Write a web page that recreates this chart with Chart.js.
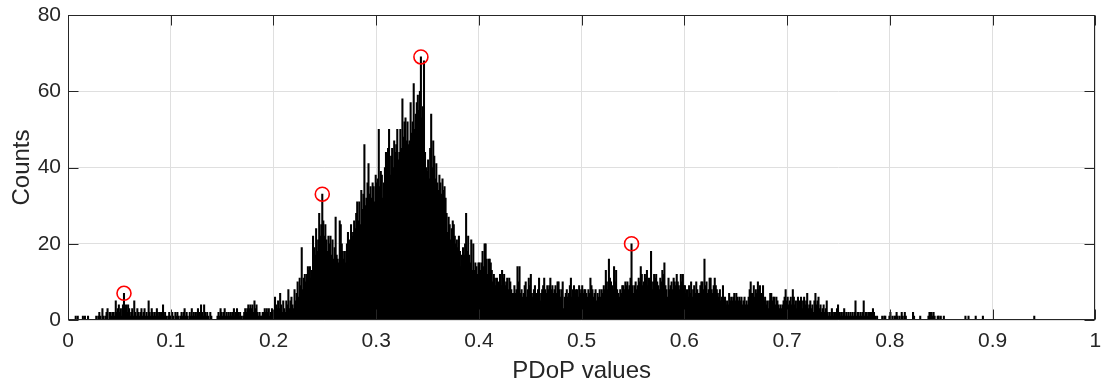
<!DOCTYPE html>
<html>
<head>
<meta charset="utf-8">
<script src="https://cdn.jsdelivr.net/npm/chart.js@4.4.0/dist/chart.umd.min.js"></script>
<style>
  html, body { margin: 0; padding: 0; background: #fff; }
</style>
</head>
<body>
<canvas id="hist" width="1104" height="386"></canvas>
<script>
// PDoP histogram, 1000 bins of width 0.001 over [0, 1]
const BIN_WIDTH = 0.001;

// counts per bin, one array per 0.1 slice
const counts00 = [
  0,0,0,0,0,0,0,1,0,1, 0,0,0,0,1,0,1,0,0,1, 0,0,0,0,0,0,0,1,0,1, 2,1,0,3,1,0,1,2,3,0,
  2,2,1,2,2,1,5,2,3,4, 2,3,1,4,7,3,4,2,4,3, 1,2,3,1,5,2,1,3,2,1, 2,3,1,2,3,1,2,1,5,2,
  1,3,2,1,2,1,3,2,1,2, 1,2,4,1,2,1,0,1,2,1
];
const counts01 = [
  1,2,1,0,2,1,2,1,0,1, 2,1,2,3,1,2,1,0,2,1, 3,1,2,1,2,1,3,2,1,4, 2,1,4,2,1,2,1,0,2,1,
  0,0,0,0,0,1,2,1,3,2, 1,2,3,1,2,1,2,1,2,1, 2,3,1,2,3,2,1,2,1,0, 1,2,3,2,3,4,3,4,3,4,
  2,5,3,4,2,1,2,1,1,2, 2,3,2,3,2,3,1,2,3,2
];
const counts02 = [
  2,6,4,3,5,3,7,4,2,5, 3,2,5,4,8,3,5,6,4,3, 8,5,7,10,6,11,9,19,8,11, 12,10,12,14,13,14,11,13,22,19,
  17,24,18,21,28,22,25,33,26,22, 25,21,18,22,20,22,17,21,16,19, 27,17,16,15,26,25,20,18,16,18,
  15,20,23,17,21,25,22,23,26,24, 28,31,26,31,25,34,29,33,46,30, 32,36,41,33,35,32,36,35,31,38
];
const counts03 = [
  36,37,50,35,39,38,32,36,40,44, 41,45,50,38,43,45,40,47,44,46, 50,42,44,50,45,58,48,52,53,47,
  52,46,47,57,49,52,62,50,54,57, 59,55,60,69,53,56,68,44,40,39, 42,37,45,54,40,47,43,37,41,36,
  34,38,36,33,37,34,35,32,28,23, 27,25,21,24,26,25,22,20,21,19, 22,18,14,17,19,17,20,28,18,22,
  17,15,21,13,20,13,15,14,12,15
];
const counts04 = [
  15,13,15,18,14,20,20,16,12,16, 16,15,13,10,12,11,9,11,10,9, 12,9,13,11,12,9,10,11,8,11,
  10,8,7,7,9,7,8,14,10,14, 7,8,6,7,9,10,6,8,11,9, 12,7,6,8,9,7,6,8,11,5,
  7,8,9,11,8,7,9,8,9,11, 8,9,7,8,9,7,10,10,8,6, 8,10,3,6,7,8,6,7,9,11,
  6,8,9,7,8,8,6,9,7,8
];
const counts05 = [
  9,7,8,8,7,6,8,7,11,9, 8,6,7,8,5,7,6,8,6,8, 7,9,8,13,10,8,16,11,10,9,
  8,14,10,13,8,7,6,8,7,9, 9,8,10,9,10,8,9,11,20,9, 7,9,10,8,9,11,10,14,12,9,
  10,12,11,13,9,11,10,18,8,10, 12,11,12,10,9,8,11,10,13,12, 15,9,8,6,11,8,9,10,8,11,
  10,9,12,10,9,8,12,10,12,9
];
const counts06 = [
  9,7,8,6,9,7,10,6,8,9, 7,10,8,7,7,9,10,10,8,16, 9,10,7,8,11,11,8,7,9,11,
  9,8,7,6,8,5,6,9,5,6, 4,5,4,7,5,6,5,6,7,5, 7,6,5,6,5,6,4,5,6,4,
  5,4,6,8,10,7,7,9,6,8, 7,10,8,9,7,6,9,5,6,4, 5,3,5,7,7,5,6,6,4,6,
  5,4,3,4,3,4,5,6,8,5
];
const counts07 = [
  6,4,5,6,4,8,6,4,5,3, 6,4,5,6,3,5,6,4,5,7, 3,4,5,3,4,2,5,7,4,5,
  6,3,4,2,3,4,2,3,5,2, 1,2,1,3,2,1,2,1,3,4, 2,1,2,1,2,3,1,2,1,2,
  1,2,1,2,1,2,5,1,2,2, 1,2,1,2,5,1,2,2,1,2, 2,2,2,3,2,1,0,1,0,0,
  0,0,1,0,1,1,0,0,0,1
];
const counts08 = [
  2,0,1,0,1,1,2,1,0,1, 0,2,1,0,2,1,0,0,0,0, 0,0,2,1,0,0,0,0,0,1,
  0,0,0,0,0,0,0,1,2,2, 2,1,2,1,0,0,1,1,0,1, 0,0,1,0,0,0,0,0,0,0,
  0,0,0,0,0,0,0,0,0,0, 0,0,0,1,0,0,1,0,0,0, 0,0,0,1,0,0,0,0,0,0,
  1,0,0,0,0,0,0,0,0,0
];
const counts09 = [
  0,0,0,0,0,0,0,0,0,0, 0,0,0,0,0,0,0,0,0,0, 0,0,0,0,0,0,0,0,0,0,
  0,0,0,0,0,0,0,0,0,0, 1,0,0,0,0,0,0,0,0,0, 0,0,0,0,0,0,0,0,0,0,
  0,0,0,0,0,0,0,0,0,0, 0,0,0,0,0,0,0,0,0,0, 0,0,0,0,0,0,0,0,0,0,
  0,0,0,0,0,0,0,0,0,0
];

// bins marked with red circles (peaks)
const peakBins = [54, 247, 343, 548];

const xTicks = [0, 0.1, 0.2, 0.3, 0.4, 0.5, 0.6, 0.7, 0.8, 0.9, 1];
const yTicks = [0, 20, 40, 60, 80];

const counts = [].concat(counts00, counts01, counts02, counts03, counts04,
                         counts05, counts06, counts07, counts08, counts09);
const barData = counts.map((c, i) => ({ x: (i + 0.5) * BIN_WIDTH, y: c }));
const peakData = peakBins.map(i => ({ x: (i + 0.5) * BIN_WIDTH, y: counts[i] }));

const INK = '#262626';
const FONT = 'Liberation Sans, Arial, Helvetica, sans-serif';

// box around the axes plus inward tick marks, like the original figure
const axesBox = {
  id: 'axesBox',
  afterDatasetsDraw(chart) {
    const { ctx, chartArea: a, scales: { x, y } } = chart;
    const L = Math.round(a.left) + 0.5, R = Math.round(a.right) - 0.5;
    const T = Math.round(a.top) + 0.5, B = Math.round(a.bottom) - 0.5;
    const len = 10;
    ctx.save();
    ctx.strokeStyle = INK;
    ctx.lineWidth = 1;
    ctx.beginPath();
    xTicks.forEach(v => {
      const px = Math.round(x.getPixelForValue(v)) + 0.5;
      ctx.moveTo(px, B); ctx.lineTo(px, B - len);
      ctx.moveTo(px, T); ctx.lineTo(px, T + len);
    });
    yTicks.forEach(v => {
      const py = Math.round(y.getPixelForValue(v)) + 0.5;
      ctx.moveTo(L, py); ctx.lineTo(L + len, py);
      ctx.moveTo(R, py); ctx.lineTo(R - len, py);
    });
    ctx.stroke();
    ctx.strokeRect(L, T, R - L, B - T);
    ctx.restore();
  }
};

const ctx = document.getElementById('hist').getContext('2d');
new Chart(ctx, {
  type: 'bar',
  data: {
    datasets: [
      {
        type: 'scatter',
        data: peakData,
        pointStyle: 'circle',
        pointRadius: 7,
        pointBorderWidth: 1.6,
        borderColor: '#ff0000',
        backgroundColor: 'rgba(0,0,0,0)',
        order: 0
      },
      {
        data: barData,
        backgroundColor: '#000000',
        borderWidth: 0,
        barThickness: 1.4,
        grouped: false,
        order: 1
      }
    ]
  },
  options: {
    responsive: false,
    animation: false,
    devicePixelRatio: 1,
    layout: { padding: { top: 15, right: 7, left: 0, bottom: 0 } },
    plugins: {
      legend: { display: false },
      tooltip: { enabled: false }
    },
    scales: {
      x: {
        type: 'linear',
        min: 0,
        max: 1,
        offset: false,
        afterBuildTicks: s => { s.ticks = xTicks.map(v => ({ value: v })); },
        afterFit: s => { s.height = 66; s.paddingLeft = 0; s.paddingRight = 0; },
        ticks: {
          color: INK,
          font: { family: FONT, size: 21 },
          padding: 9,
          maxRotation: 0,
          callback: v => String(v)
        },
        grid: { color: '#dfdfdf', drawTicks: false, offset: false },
        border: { display: false },
        title: {
          display: true,
          text: 'PDoP values',
          color: INK,
          font: { family: FONT, size: 24 },
          padding: { top: 0, bottom: 0 }
        }
      },
      y: {
        min: 0,
        max: 80,
        afterBuildTicks: s => { s.ticks = yTicks.map(v => ({ value: v })); },
        afterFit: s => { s.width = 68; s.paddingTop = 0; s.paddingBottom = 0; },
        ticks: {
          color: INK,
          font: { family: FONT, size: 21 },
          padding: 7,
          callback: v => String(v)
        },
        grid: { color: '#dfdfdf', drawTicks: false },
        border: { display: false },
        title: {
          display: true,
          text: 'Counts',
          color: INK,
          font: { family: FONT, size: 24 },
          padding: { top: 8, bottom: 0 }
        }
      }
    }
  },
  plugins: [axesBox]
});
</script>
</body>
</html>
